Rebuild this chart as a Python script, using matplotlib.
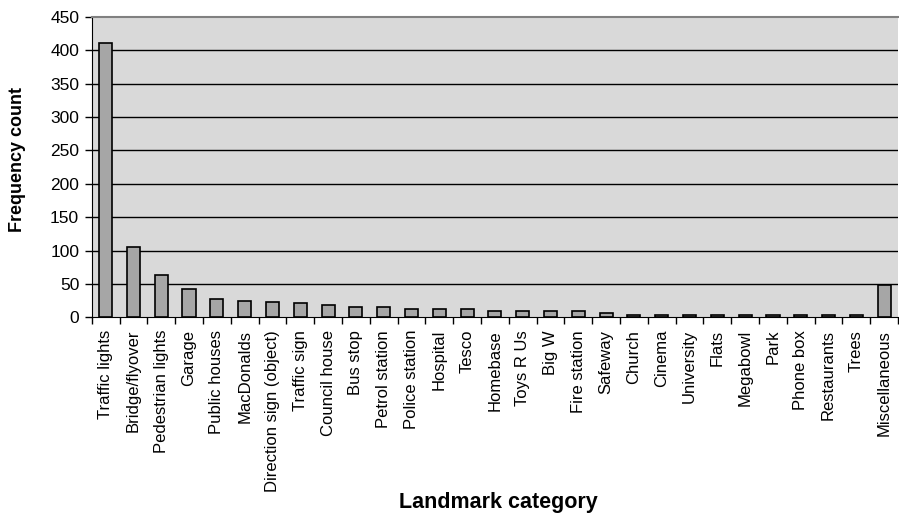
import matplotlib
matplotlib.use("Agg")
import matplotlib.pyplot as plt
import numpy as np

categories = [
    "Traffic lights", "Bridge/flyover", "Pedestrian lights", "Garage",
    "Public houses", "MacDonalds", "Direction sign (object)", "Traffic sign",
    "Council house", "Bus stop", "Petrol station", "Police station",
    "Hospital", "Tesco", "Homebase", "Toys R Us", "Big W", "Fire station",
    "Safeway", "Church", "Cinema", "University", "Flats", "Megabowl",
    "Park", "Phone box", "Restaurants", "Trees", "Miscellaneous",
]
counts = [
    410, 105, 63, 43, 27, 25, 23, 21, 18, 16, 16, 13, 12, 12, 9, 9, 9, 9,
    7, 4, 4, 4, 4, 4, 4, 4, 4, 4, 48,
]
y_ticks = [0, 50, 100, 150, 200, 250, 300, 350, 400, 450]

plt.rcParams["font.family"] = ["Liberation Sans", "DejaVu Sans"]

fig = plt.figure(figsize=(8.99, 5.15), dpi=100)
ax = fig.add_axes([0.102, 0.3835, 0.897, 0.584])
ax.set_facecolor("#d9d9d9")

x = np.arange(len(categories))
ax.bar(x, counts, width=0.47, color="#a6a6a6", edgecolor="black",
       linewidth=1.2, zorder=3)

ax.set_xlim(-0.5, len(categories) - 0.5)
ax.set_ylim(0, 450)
ax.set_yticks(y_ticks)
ax.set_yticklabels([str(v) for v in y_ticks], fontsize=12.5)

for v in y_ticks[1:-1]:
    ax.axhline(v, color="black", linewidth=1.0, zorder=1)

ax.set_xticks(x)
ax.set_xticklabels(categories, rotation=90, fontsize=12)
ax.set_xticks(np.arange(len(categories) + 1) - 0.5, minor=True)
ax.tick_params(axis="x", which="major", length=0, pad=9)
ax.tick_params(axis="x", which="minor", length=5, width=1, color="black",
               direction="out")
ax.tick_params(axis="y", length=5, width=1, color="black", direction="out",
               pad=4)

ax.spines["top"].set_color("#808080")
ax.spines["top"].set_linewidth(1.5)
ax.spines["right"].set_visible(False)
ax.spines["left"].set_color("black")
ax.spines["bottom"].set_color("black")

fig.text(0.019, 0.69, "Frequency count", rotation=90, fontsize=13,
         fontweight="bold", ha="center", va="center")
fig.text(0.554, 0.025, "Landmark category", fontsize=15.5,
         fontweight="bold", ha="center", va="center")

fig.savefig("out.png", dpi=100)
